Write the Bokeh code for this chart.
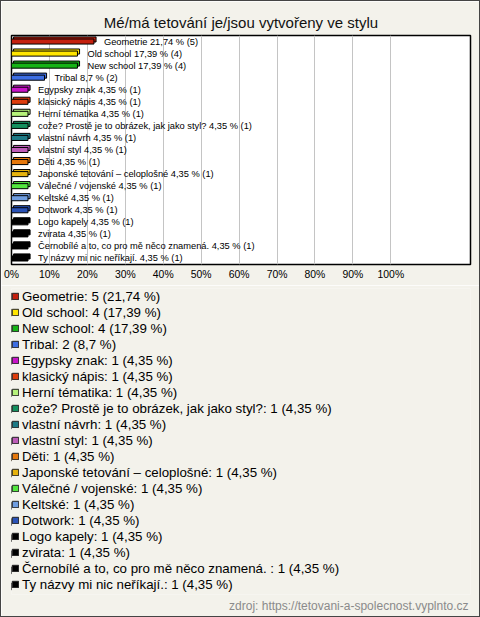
from bokeh.plotting import figure
from bokeh.layouts import column
from bokeh.models import (Range1d, FactorRange, FixedTicker, Legend, LegendItem,
                          ColumnDataSource, Title)
from bokeh.transform import dodge
from bokeh.core.properties import field, value
from bokeh.embed import file_html
from bokeh.resources import INLINE

title_text = "Mé/má tetování je/jsou vytvořeny ve stylu"
source_text = "zdroj: https://tetovani-a-spolecnost.vyplnto.cz"

categories = [
    "Geometrie", "Old school", "New school", "Tribal", "Egypsky znak",
    "klasický nápis", "Herní tématika",
    "cože? Prostě je to obrázek, jak jako styl?", "vlastní návrh",
    "vlastní styl", "Děti", "Japonské tetování – celoplošné",
    "Válečné / vojenské", "Keltské", "Dotwork", "Logo kapely", "zvirata",
    "Černobílé a to, co pro mě něco znamená. ", "Ty názvy mi nic neříkají.",
]
counts = [5, 4, 4, 2, 1, 1, 1, 1, 1, 1, 1, 1, 1, 1, 1, 1, 1, 1, 1]
percents = [21.74, 17.39, 17.39, 8.7, 4.35, 4.35, 4.35, 4.35, 4.35, 4.35,
            4.35, 4.35, 4.35, 4.35, 4.35, 4.35, 4.35, 4.35, 4.35]
percent_texts = ["21,74", "17,39", "17,39", "8,7"] + ["4,35"] * 15
colors = ["#c4200e", "#ffe500", "#16b316", "#3d6ee3", "#c814c8", "#de3c0c",
          "#b6f27a", "#14905e", "#1d7a86", "#bd5cb8", "#e6780c", "#e6b20c",
          "#52e63e", "#6f9de0", "#2a52b6", "#000000", "#000000", "#000000",
          "#000000"]
tick_values = [0, 10, 20, 30, 40, 50, 60, 70, 80, 90, 100]
tick_labels = ["0%", "10%", "20%", "30%", "40%", "50%", "60%", "70%", "80%",
               "90%", "100%"]

bar_labels = [f"{c} {t} % ({n})" for c, t, n in zip(categories, percent_texts, counts)]
legend_labels = [f"{c}: {n} ({t} %)" for c, t, n in zip(categories, percent_texts, counts)]

src = ColumnDataSource(dict(cat=categories, pct=percents, col=colors,
                            lab=bar_labels, leg=legend_labels))

FONT = "Liberation Sans"
BG = "#f3f2eb"

# ---------------- chart ----------------
p = figure(width=478, height=284,
           x_range=Range1d(0, 121),
           y_range=FactorRange(factors=list(reversed(categories))),
           y_axis_location=None,
           output_backend="svg", toolbar_location=None,
           min_border_left=10, min_border_right=9, min_border_top=34,
           min_border_bottom=21)

p.background_fill_color = "white"
p.border_fill_color = BG
p.outline_line_color = "black"
p.outline_line_width = 1.5

p.title.text = title_text
p.title.align = "center"
p.title.text_font = FONT
p.title.text_font_size = "15px"
p.title.text_font_style = "normal"
p.title.text_color = "#111111"
p.title.standoff = 9

# 3D back face
p.hbar(y=dodge("cat", 0.17, range=p.y_range), left=0.55,
       right=dodge("pct", 0.55), height=0.42, source=src,
       fill_color="col", line_color="black", line_width=1)
front = p.hbar(y="cat", left=0, right="pct", height=0.42, source=src,
               fill_color="col", line_color="black", line_width=1)

p.text(x="pct", y="cat", text="lab", source=src, x_offset=10,
       text_baseline="middle", text_align="left",
       text_font=value(FONT), text_font_size="9.3px", text_color="black")

p.xgrid.ticker = FixedTicker(ticks=tick_values)
p.xgrid.grid_line_color = "#c4c4c4"
p.ygrid.grid_line_color = None

ax = p.xaxis[0]
ax.ticker = FixedTicker(ticks=tick_values)
ax.major_label_overrides = {v: l for v, l in zip(tick_values, tick_labels)}
ax.axis_line_color = None
ax.major_tick_line_color = None
ax.minor_tick_line_color = None
ax.major_label_standoff = -2
ax.major_label_text_font = FONT
ax.major_label_text_font_size = "10.4px"
ax.major_label_text_color = "black"

# ---------------- legend panel ----------------
q = figure(width=478, height=331,
           x_range=Range1d(200, 300),
           y_range=FactorRange(factors=list(reversed(categories))),
           x_axis_location=None, y_axis_location=None,
           output_backend="svg", toolbar_location=None,
           min_border_left=7, min_border_right=0, min_border_top=3,
           min_border_bottom=22)
q.background_fill_color = BG
q.border_fill_color = BG
q.outline_line_color = None
q.xgrid.grid_line_color = None
q.ygrid.grid_line_color = None

swatch = q.hbar(y="cat", left=0, right="pct", height=0.42, source=src,
                fill_color="col", line_color="#222222", line_width=1)

legend = Legend(items=[LegendItem(label=field("leg"), renderers=[swatch])],
                location="top_left", orientation="vertical",
                label_text_font=FONT, label_text_font_size="13.3px",
                label_text_color="black",
                glyph_width=8, glyph_height=8, label_height=16,
                label_standoff=3, spacing=0, padding=0, margin=0,
                border_line_color=None, background_fill_alpha=0)
q.add_layout(legend, "center")

footer = Title(text=source_text, align="right", text_font=FONT,
               text_font_size="12px", text_font_style="normal",
               text_color="#8a8a8a", standoff=4, offset=2)
q.add_layout(footer, "below")

page = column(p, q, spacing=0, styles={"border": "1px solid #444444"})

open("out.html", "w").write(file_html(page, INLINE))
